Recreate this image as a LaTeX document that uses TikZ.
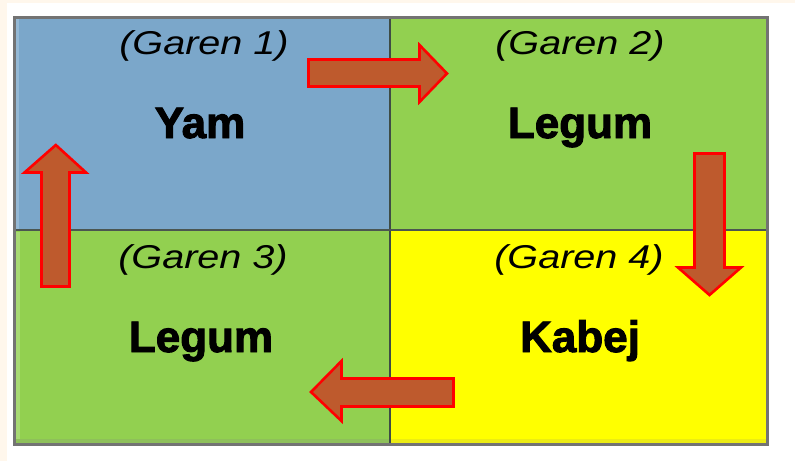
\documentclass[tikz,border=0pt]{standalone}
\usepackage{fontspec}
\setmainfont{Liberation Sans}
\newfontfamily\heavyfont{Liberation Sans Bold}[FakeBold=2.2]
\usepackage{graphicx}
\definecolor{cellblue}{HTML}{7BA7CA}
\definecolor{cellgreen}{HTML}{92D050}
\definecolor{cellyellow}{HTML}{FFFF00}
\definecolor{arrowfill}{HTML}{BE5A2D}
\definecolor{gridgray}{HTML}{737373}
\definecolor{griddark}{HTML}{3E4C45}
\definecolor{cream}{HTML}{FFF7EC}
\tikzset{
  cell/.style={draw=none, inner sep=0pt, outer sep=0pt},
  garen/.style={anchor=base, inner sep=0pt, font=\fontsize{33}{33}\selectfont\itshape},
  crop/.style={anchor=base, inner sep=0pt, font=\fontsize{44}{44}\selectfont\heavyfont},
  blockarrow/.style={fill=arrowfill, draw=red, line width=2.6pt, line join=miter},
}
\begin{document}
\begin{tikzpicture}[x=1pt,y=-1pt]
\useasboundingbox (0,0) rectangle (795,461);
\fill[white] (0,0) rectangle (795,461);
\fill[cream] (0,0) rectangle (7,461);
\fill[cream] (0,0) rectangle (795,3);
% cells
\fill[cellblue]   (14,16)  rectangle (390,230);
\fill[cellgreen]  (390,16) rectangle (768,230);
\fill[cellgreen]  (14,230) rectangle (390,445);
\fill[cellyellow] (390,230) rectangle (768,445);
% subtle edge shades
\fill[cellgreen!80!white] (16,232) rectangle (20,443);
\fill[cellgreen!80!gray] (16,439) rectangle (389,443);
\fill[cellyellow!85!gray] (391,439) rectangle (766,443);
\fill[cellblue!80!white] (16,18) rectangle (19,229);
% inner lines
\draw[griddark, line width=2pt] (390,16) -- (390,445);
\draw[griddark!80!gray, line width=2.5pt] (14,230) -- (768,230);
% outer border
\draw[gridgray, line width=3pt] (14.5,17) rectangle (767.5,444.5);
% texts
\node[garen] (g1) at (204,54)  {\scalebox{1.2}[1]{(Garen 1)}};
\node[garen] (g2) at (580,54)  {\scalebox{1.2}[1]{(Garen 2)}};
\node[garen] (g3) at (203,268) {\scalebox{1.2}[1]{(Garen 3)}};
\node[garen] (g4) at (579,268) {\scalebox{1.2}[1]{(Garen 4)}};
\node[crop] (yam)    at (200,138) {Yam};
\node[crop] (legum2) at (580,138) {Legum};
\node[crop] (legum3) at (201,352) {Legum};
\node[crop] (kabej)  at (580,352) {Kabej};
% block arrows
\draw[blockarrow] (308.5,59.5) -- (419.5,59.5) -- (419.5,45) -- (447,73.5) -- (419.5,102) -- (419.5,86.5) -- (308.5,86.5) -- cycle;
\draw[blockarrow] (694.5,153.5) -- (724.5,153.5) -- (724.5,267.5) -- (741,267.5) -- (709.5,295) -- (678,267.5) -- (694.5,267.5) -- cycle;
\draw[blockarrow] (453.5,378.5) -- (453.5,406.5) -- (341.5,406.5) -- (341.5,421) -- (311,392) -- (341.5,361) -- (341.5,378.5) -- cycle;
\draw[blockarrow] (41.5,286.5) -- (69.5,286.5) -- (69.5,172.5) -- (86,172.5) -- (55.8,145) -- (24.5,172.5) -- (41.5,172.5) -- cycle;
\end{tikzpicture}
\end{document}
